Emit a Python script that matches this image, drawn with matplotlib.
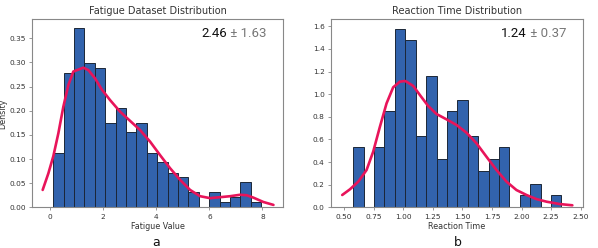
import numpy as np
import matplotlib
matplotlib.use("Agg")
import matplotlib.pyplot as plt

# ---------------- data ----------------
fatigue_range = (0.125, 7.95)
fatigue_density = [0.113, 0.279, 0.371, 0.299, 0.289, 0.175, 0.206, 0.155, 0.175, 0.113,
                   0.093, 0.072, 0.062, 0.031, 0.0, 0.031, 0.010, 0.021, 0.052, 0.010]
fatigue_kde_x = [-0.276, -0.063, 0.126, 0.314, 0.502, 0.691, 0.879, 1.256, 1.444, 1.696,
                 1.947, 2.261, 2.638, 3.014, 3.391, 3.768, 4.145, 4.521, 4.898, 5.275,
                 5.652, 6.029, 6.405, 6.782, 7.159, 7.410, 7.661, 8.038, 8.415]
fatigue_kde_y = [0.036, 0.070, 0.106, 0.153, 0.208, 0.253, 0.281, 0.289, 0.284, 0.267,
                 0.244, 0.222, 0.198, 0.179, 0.160, 0.136, 0.108, 0.081, 0.057, 0.036,
                 0.023, 0.019, 0.021, 0.023, 0.026, 0.025, 0.020, 0.011, 0.005]

rt_range = (0.576, 2.338)
rt_density = [0.53, 0.0, 0.53, 0.85, 1.58, 1.48, 0.635, 1.16, 0.425, 0.85,
              0.95, 0.635, 0.32, 0.425, 0.53, 0.0, 0.105, 0.21, 0.0, 0.105]
rt_kde_x = [0.483, 0.548, 0.619, 0.689, 0.745, 0.802, 0.858, 0.914, 0.971, 1.013,
            1.027, 1.084, 1.140, 1.210, 1.281, 1.365, 1.450, 1.534, 1.619, 1.703,
            1.788, 1.873, 1.957, 2.042, 2.126, 2.211, 2.323, 2.430]
rt_kde_y = [0.109, 0.159, 0.227, 0.330, 0.492, 0.713, 0.919, 1.061, 1.111, 1.117,
            1.111, 1.073, 0.993, 0.896, 0.825, 0.778, 0.728, 0.660, 0.566, 0.448,
            0.330, 0.227, 0.153, 0.109, 0.073, 0.050, 0.029, 0.018]

titles = ["Fatigue Dataset Distribution", "Reaction Time Distribution"]
xlabels = ["Fatigue Value", "Reaction Time"]
means = ["2.46", "1.24"]
stds = ["1.63", "0.37"]
captions = ["a", "b"]

# ---------------- style ----------------
BAR = "#3263ad"
EDGE = "#1c2738"
KDE = "#e8145a"
SPINE = "#888888"
TXT = "#333333"

fig = plt.figure(figsize=(5.98, 2.48), dpi=100)
ax1 = fig.add_axes([0.0535, 0.164, 0.420, 0.758])
ax2 = fig.add_axes([0.5535, 0.164, 0.421, 0.758])

panels = [
    (ax1, fatigue_range, fatigue_density, fatigue_kde_x, fatigue_kde_y, (-0.678, 8.78), (0, 0.389),
     [0, 2, 4, 6, 8], ["0", "2", "4", "6", "8"],
     [0, 0.05, 0.10, 0.15, 0.20, 0.25, 0.30, 0.35], ["0.00", "0.05", "0.10", "0.15", "0.20", "0.25", "0.30", "0.35"]),
    (ax2, rt_range, rt_density, rt_kde_x, rt_kde_y, (0.388, 2.518), (0, 1.662),
     [0.5, 0.75, 1.0, 1.25, 1.5, 1.75, 2.0, 2.25, 2.5],
     ["0.50", "0.75", "1.00", "1.25", "1.50", "1.75", "2.00", "2.25", "2.50"],
     [0, 0.2, 0.4, 0.6, 0.8, 1.0, 1.2, 1.4, 1.6], ["0.0", "0.2", "0.4", "0.6", "0.8", "1.0", "1.2", "1.4", "1.6"]),
]

for i, (ax, rng, dens, kx, ky, xl, yl, xt, xtl, yt, ytl) in enumerate(panels):
    edges = np.linspace(rng[0], rng[1], len(dens) + 1)
    ax.bar(edges[:-1], dens, width=np.diff(edges), align="edge",
           color=BAR, edgecolor=EDGE, linewidth=0.7, zorder=2)
    ax.plot(kx, ky, color=KDE, lw=1.9, solid_capstyle="round", zorder=3)
    ax.set_xlim(*xl)
    ax.set_ylim(*yl)
    ax.set_xticks(xt)
    ax.set_xticklabels(xtl)
    ax.set_yticks(yt)
    ax.set_yticklabels(ytl)
    ax.tick_params(labelsize=5.3, colors=TXT, length=2.5, width=0.6, pad=2, color=SPINE)
    for s in ax.spines.values():
        s.set_color(SPINE)
        s.set_linewidth(0.8)
    ax.set_title(titles[i], fontsize=7, color=TXT, pad=4)
    ax.set_xlabel(xlabels[i], fontsize=5.8, color=TXT, labelpad=2)

ax1.set_ylabel("Density", fontsize=5.8, color=TXT)
ax1.yaxis.set_label_coords(-0.097, 0.5)

# annotations: black mean, grey +- std
fig.canvas.draw()
r = fig.canvas.get_renderer()
for ax, m, s in [(ax1, means[0], stds[0]), (ax2, means[1], stds[1])]:
    t1 = ax.text(0.675, 0.925, m, transform=ax.transAxes, fontsize=9.5,
                 color="#111111", family="Roboto", ha="left", va="center")
    bb = t1.get_window_extent(renderer=r)
    inv = ax.transAxes.inverted()
    x_end = inv.transform((bb.x1, bb.y0))[0]
    ax.text(x_end, 0.925, " \u00b1 " + s, transform=ax.transAxes, fontsize=9.5,
            color="#777777", family="Roboto", ha="left", va="center")

fig.text(0.261, 0.008, captions[0], fontsize=9, color="#111111", ha="center", va="baseline")
fig.text(0.765, 0.008, captions[1], fontsize=9, color="#111111", ha="center", va="baseline")

fig.savefig("out.png", dpi=100)
